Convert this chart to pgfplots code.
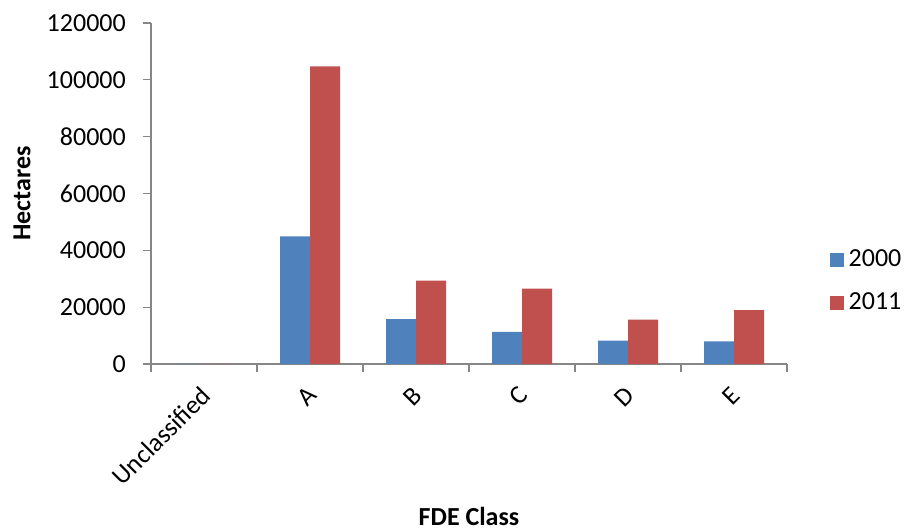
\documentclass[border=0pt]{standalone}
\usepackage{fontspec}
\setmainfont{Carlito}
\usepackage{pgfplots}
\pgfplotsset{compat=1.18}
\definecolor{c2000}{HTML}{4F81BD}
\definecolor{c2011}{HTML}{C0504D}
\definecolor{axgray}{HTML}{868686}
\newcommand{\chfont}{\fontsize{26bp}{30bp}\selectfont}
\begin{document}
\chfont
\begin{tikzpicture}
\path[use as bounding box] (0,0) rectangle (906bp,531bp);
\begin{axis}[
 at={(151bp,167bp)}, anchor=south west,
 scale only axis, width=636bp, height=341bp,
 ybar=0pt, bar width=30bp,
 xmin=-0.5, xmax=5.5, ymin=0, ymax=120000,
 axis lines*=left,
 axis line style={axgray, line width=1.2bp},
 xtick={0,...,5},
 xticklabels={Unclassified,A,B,C,D,E},
 minor xtick={-0.5,0.5,...,5.5},
 major x tick style={draw=none},
 minor x tick style={axgray,line width=1.2bp},
 scaled y ticks=false,
 ytick={0,20000,...,120000},
 yticklabels={0,20000,40000,60000,80000,100000,120000},
 ytick style={axgray,line width=1.2bp},
 tick align=outside,
 major tick length=8bp, minor tick length=8bp,
 xticklabel style={xshift=2bp, yshift=-19bp, rotate=45, anchor=east, inner sep=0pt},
 yticklabel style={anchor=east, inner sep=0pt, xshift=-17bp},
 ticklabel style={font=\chfont},
 every axis y label/.style={at={(axis description cs:-0.2028,0.5)},rotate=90,anchor=center},
 every axis x label/.style={at={(axis description cs:0.5,-0.4457)},anchor=center},
 ylabel={\bfseries Hectares},
 xlabel={\bfseries FDE Class},
 label style={font=\chfont},
 legend style={at={(1,0.243)}, anchor=west, xshift=43bp, draw=none, fill=none, inner sep=0pt, row sep=22bp, font=\chfont, nodes={inner xsep=4.5bp, inner ysep=0pt}},
 legend image code/.code={\fill[#1] (0bp,-7bp) rectangle (14bp,7bp);},
 legend cell align=left,
]
\addplot[fill=c2000, draw=none] coordinates {(0,0) (1,44900) (2,15800) (3,11300) (4,8200) (5,8000)};
\addplot[fill=c2011, draw=none] coordinates {(0,0) (1,104700) (2,29300) (3,26500) (4,15600) (5,19000)};
\legend{2000,2011}
\end{axis}
\end{tikzpicture}
\end{document}
